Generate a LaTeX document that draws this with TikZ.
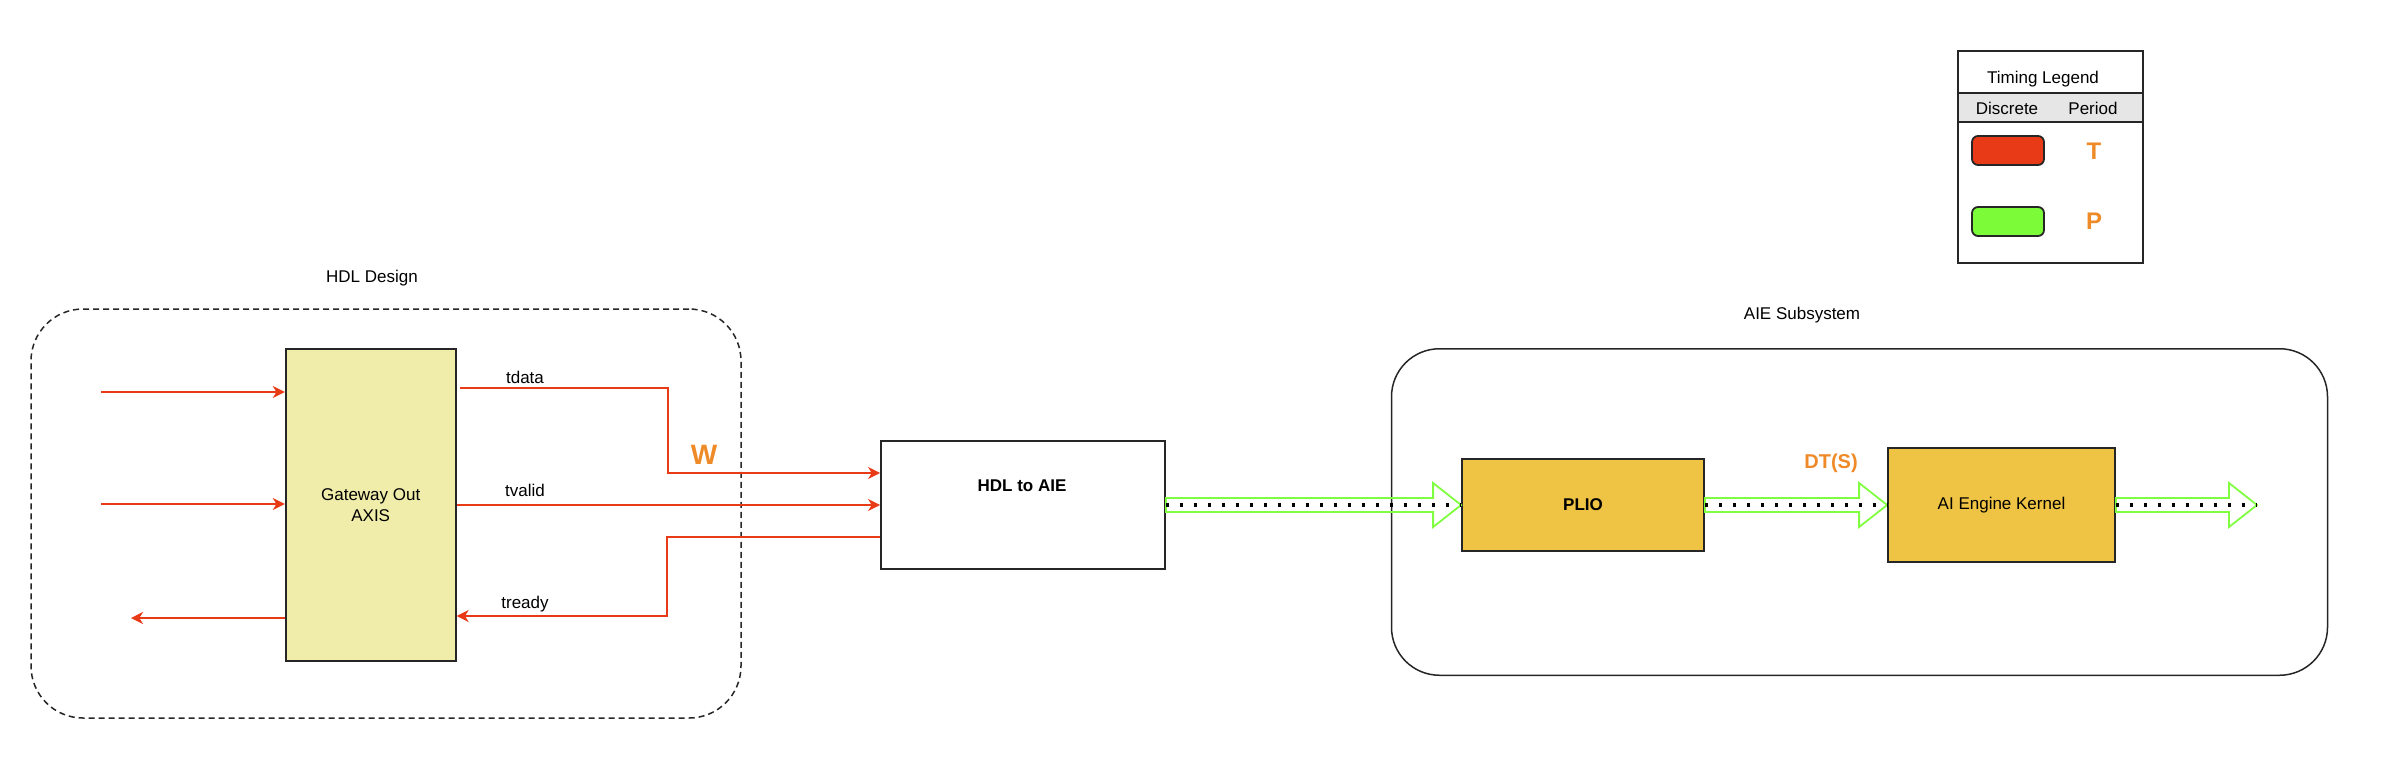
\documentclass[tikz,border=0pt]{standalone}
\usepackage{fontspec}
\setmainfont{Liberation Sans}
\usetikzlibrary{arrows.meta,positioning,calc}

\definecolor{sigred}{RGB}{232,58,22}
\definecolor{gwfill}{RGB}{240,237,170}
\definecolor{aiefill}{RGB}{239,195,67}
\definecolor{flexgreen}{RGB}{128,255,64}
\definecolor{rateorange}{RGB}{238,138,40}
\definecolor{leggreen}{RGB}{124,251,56}
\definecolor{hdrgray}{RGB}{230,230,230}

\begin{document}
\begin{tikzpicture}[
    x=0.5pt, y=-0.5pt,
    txt/.style={font=\fontsize{8.5}{10.5}\selectfont, inner sep=0pt, align=center},
    blk/.style={draw=black!85, line width=0.9pt, inner sep=0pt, align=center, font=\fontsize{8.5}{10.5}\selectfont},
    frame/.style={draw=black!85, line width=0.75pt, inner sep=0pt},
    sig/.style={-{Stealth[length=6pt, width=6pt, inset=1.8pt]}, line width=0.9pt, sigred},
    rate/.style={font=\bfseries, text=rateorange, inner sep=0pt},
    flex/.style={draw=flexgreen, line width=0.9pt,
        to path={let \p1=(\tikztostart), \p2=(\tikztotarget) in
            (\x1,\y1+3.5pt) -- (\x2-14pt,\y1+3.5pt) -- (\x2-14pt,\y1+11pt) -- (\x2,\y1)
            -- (\x2-14pt,\y1-11pt) -- (\x2-14pt,\y1-3.5pt) -- (\x1,\y1-3.5pt) -- cycle}},
    dots/.style={line width=1.6pt, dash pattern=on 1.6pt off 5.4pt, black},
]
\useasboundingbox (0,0) rectangle (2382,783);

% HDL design frame
\node[txt] (hdltitle) at (372,278) {HDL Design};
\node[frame, dashed, dash pattern=on 3pt off 2pt, rounded corners=26pt,
      minimum width=355pt, minimum height=204.5pt] (hdlframe) at (386,513.5) {};

% Gateway block
\node[blk, fill=gwfill, minimum width=85pt, minimum height=156pt] (gw) at (370.7,505) {Gateway Out\\AXIS};
\coordinate (in1) at (101,392);
\coordinate (in2) at (101,504);
\coordinate (out1) at (131,618);
\draw[sig] (in1) -- (gw.west |- in1);
\draw[sig] (in2) -- (gw.west |- in2);
\draw[sig] (gw.west |- out1) -- (out1);

% HDL to AIE block
\node[blk, minimum width=142pt, minimum height=64pt] (hdl) at (1023,505) {};
\node[txt, font=\fontsize{8.5}{10.5}\selectfont\bfseries] (hdltext) at (1022,486) {HDL to AIE};

% AXIS signals
\coordinate (tdatas) at (460,388);
\draw[sig] (tdatas) -- ++(208,0) |- ([yshift=16pt]hdl.west);
\draw[sig] (gw.east) -- (hdl.west);
\draw[sig] ([yshift=-16pt]hdl.west) -- ++(-213,0) |- ([yshift=-55.5pt]gw.east);
\node[txt] (tdatalbl) at (525,377) {tdata};
\node[txt] (tvalidlbl) at (525,490) {tvalid};
\node[txt] (treadylbl) at (525,604) {tready};
\node[rate, font=\fontsize{14}{16}\selectfont\bfseries] (wrate) at (704,455) {W};

% AIE subsystem
\node[txt] (aietitle) at (1802,315) {AIE Subsystem};
\node[frame, rounded corners=24pt, minimum width=468pt, minimum height=163.25pt] (aieframe) at (1859.5,512) {};
\node[blk, fill=aiefill, minimum width=121pt, minimum height=46pt, font=\fontsize{8.5}{10.5}\selectfont\bfseries] (plio) at (1583,505) {PLIO};
\node[blk, fill=aiefill, minimum width=113.5pt, minimum height=57pt] (kernel) at (2001.5,505) {AI Engine Kernel};
\node[rate, font=\fontsize{10}{12}\selectfont\bfseries] (dtrate) at (1831,463) {DT(S)};
\coordinate (aieout) at (2257,505);

% Streams
\draw[flex] (hdl.east) to (plio.west);
\draw[flex] (plio.east) to (kernel.west);
\draw[flex] (kernel.east) to (aieout);
\draw[dots] (hdl.east) -- (plio.west);
\draw[dots] (plio.east) -- (kernel.west);
\draw[dots] (kernel.east) -- (aieout);

% Timing legend
\node[frame, minimum width=92.5pt, minimum height=106pt] (legend) at (2050.5,157) {};
\node[frame, fill=hdrgray, minimum width=92.5pt, minimum height=14.5pt] (leghdr) at (2050.5,107.5) {};
\node[txt] (legtitle) at (2043,79) {Timing Legend};
\node[txt] (legdisc) at (2007,108) {Discrete};
\node[txt] (legper) at (2093,108) {Period};
\node[blk, fill=sigred, rounded corners=3pt, minimum width=36pt, minimum height=14.5pt] (legred) at (2008,150.5) {};
\node[blk, fill=leggreen, rounded corners=3pt, minimum width=36pt, minimum height=14.5pt] (leggrn) at (2008,221.5) {};
\node[rate, font=\fontsize{12}{14}\selectfont\bfseries] (legt) at (2094,151) {T};
\node[rate, font=\fontsize{12}{14}\selectfont\bfseries] (legp) at (2094,221) {P};

\end{tikzpicture}
\end{document}
